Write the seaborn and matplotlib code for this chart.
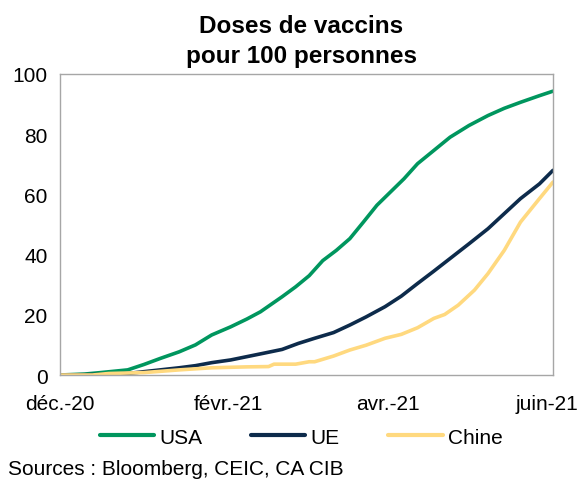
import matplotlib
matplotlib.use("Agg")
import matplotlib.pyplot as plt
import matplotlib.transforms as mtransforms
from matplotlib.lines import Line2D
import seaborn as sns
import pandas as pd

# ---- data ----
usa_dates = ['2020-12-01', '2020-12-10', '2020-12-16', '2020-12-26', '2021-01-01', '2021-01-07',
             '2021-01-14', '2021-01-20', '2021-01-26', '2021-02-02', '2021-02-08', '2021-02-13',
             '2021-02-21', '2021-02-26', '2021-03-03', '2021-03-08', '2021-03-13', '2021-03-18',
             '2021-03-23', '2021-03-28', '2021-04-02', '2021-04-07', '2021-04-12', '2021-04-18',
             '2021-04-24', '2021-05-01', '2021-05-08', '2021-05-14', '2021-05-20', '2021-05-27',
             '2021-06-01']
usa_vals = [0, 0.3, 0.8, 1.7, 3.5, 5.5, 7.7, 10, 13.3, 16, 18.6, 21, 26, 29.3, 33, 38, 41.4,
            45.3, 50.8, 56.4, 60.8, 65.2, 70.2, 74.6, 79, 82.9, 86.2, 88.6, 90.6, 92.8, 94.3]

ue_dates = ['2020-12-01', '2020-12-19', '2020-12-26', '2021-01-01', '2021-01-07', '2021-01-14',
            '2021-01-20', '2021-01-26', '2021-02-02', '2021-02-08', '2021-02-14', '2021-02-21',
            '2021-02-27', '2021-03-05', '2021-03-12', '2021-03-18', '2021-03-24', '2021-03-31',
            '2021-04-06', '2021-04-12', '2021-04-18', '2021-04-24', '2021-05-01', '2021-05-08',
            '2021-05-14', '2021-05-20', '2021-05-27', '2021-06-01']
ue_vals = [0, 0.2, 0.5, 1.1, 1.7, 2.4, 3.1, 4.1, 5, 6.1, 7.2, 8.5, 10.5, 12.2, 14.1, 16.6, 19.3,
           22.7, 26.2, 30.4, 34.5, 38.7, 43.6, 48.6, 53.6, 58.6, 63.5, 68]

chine_dates = ['2020-12-01', '2020-12-13', '2020-12-19', '2021-01-01', '2021-01-14', '2021-01-26',
               '2021-02-08', '2021-02-16', '2021-02-18', '2021-02-26', '2021-03-03', '2021-03-05',
               '2021-03-12', '2021-03-18', '2021-03-24', '2021-03-31', '2021-04-06', '2021-04-12',
               '2021-04-18', '2021-04-22', '2021-04-27', '2021-05-03', '2021-05-08', '2021-05-14',
               '2021-05-20', '2021-05-27', '2021-06-01']
chine_vals = [0, 0, 0.5, 0.8, 1.7, 2.4, 2.7, 2.8, 3.6, 3.6, 4.4, 4.4, 6.3, 8.3, 9.9, 12.2, 13.5,
              15.7, 18.8, 20.1, 23.2, 28.2, 33.7, 41.4, 50.8, 58.6, 64.1]

series_names = ['USA', 'UE', 'Chine']
colors = ['#00965E', '#0D2B4B', '#FFD97F']
tick_dates = ['2020-12-01', '2021-02-01', '2021-04-01', '2021-06-01']
tick_labels = ['déc.-20', 'févr.-21', 'avr.-21', 'juin-21']
y_ticks = [0, 20, 40, 60, 80, 100]

title_l1 = 'Doses de vaccins'
title_l2 = 'pour 100 personnes'
source = 'Sources : Bloomberg, CEIC, CA CIB'

# ---- build table ----
frames = []
for name, d, v in zip(series_names, [usa_dates, ue_dates, chine_dates],
                      [usa_vals, ue_vals, chine_vals]):
    frames.append(pd.DataFrame({'date': pd.to_datetime(d), 'value': v, 'serie': name}))
df = pd.concat(frames, ignore_index=True)

sns.set_theme(style='white')
plt.rcParams['font.family'] = ['Liberation Sans', 'DejaVu Sans']
plt.rcParams['text.color'] = 'black'

fig = plt.figure(figsize=(5.82, 4.81), dpi=100)
ax = fig.add_axes([60 / 582, 1 - 376 / 481, 493 / 582, 301 / 481])

sns.lineplot(data=df, x='date', y='value', hue='serie', hue_order=series_names,
             palette=colors, linewidth=2.6, ax=ax, legend=False)

ax.set_xlim(pd.Timestamp(tick_dates[0]), pd.Timestamp(tick_dates[-1]))
ax.set_ylim(0, 100)
ax.set_xticks(pd.to_datetime(tick_dates))
ax.set_xticklabels(tick_labels)
ax.set_yticks(y_ticks)
ax.set_xlabel('')
ax.set_ylabel('')
ax.tick_params(axis='both', length=0, labelsize=15, colors='black')
ax.tick_params(axis='y', pad=9)
ax.tick_params(axis='x', pad=14)
for s in ax.spines.values():
    s.set_visible(True)
    s.set_color('#A6A6A6')
    s.set_linewidth(1.0)
ax.grid(False)

# keep the last x label inside the figure, as in the reference
last = ax.get_xticklabels()[-1]
last.set_transform(last.get_transform() +
                   mtransforms.ScaledTranslation(-6 / 100, 0, fig.dpi_scale_trans))

fig.text(301 / 582, 1 - 33 / 481, title_l1, ha='center', va='baseline',
         fontsize=17.5, fontweight='bold', color='black')
fig.text(301 / 582, 1 - 63 / 481, title_l2, ha='center', va='baseline',
         fontsize=17.5, fontweight='bold', color='black')

handles = [Line2D([0], [0], color=c, lw=3) for c in colors]
leg = fig.legend(handles, series_names, loc='center', bbox_to_anchor=(301 / 582, 1 - 438 / 481),
                 ncol=3, frameon=False, fontsize=15, handlelength=2.6, handletextpad=0.25,
                 columnspacing=2.35, borderpad=0, borderaxespad=0)
for t in leg.get_texts():
    t.set_color('black')

fig.text(8 / 582, 1 - 475 / 481, source, ha='left', va='baseline', fontsize=15, color='black')

fig.savefig('out.png', dpi=100)
